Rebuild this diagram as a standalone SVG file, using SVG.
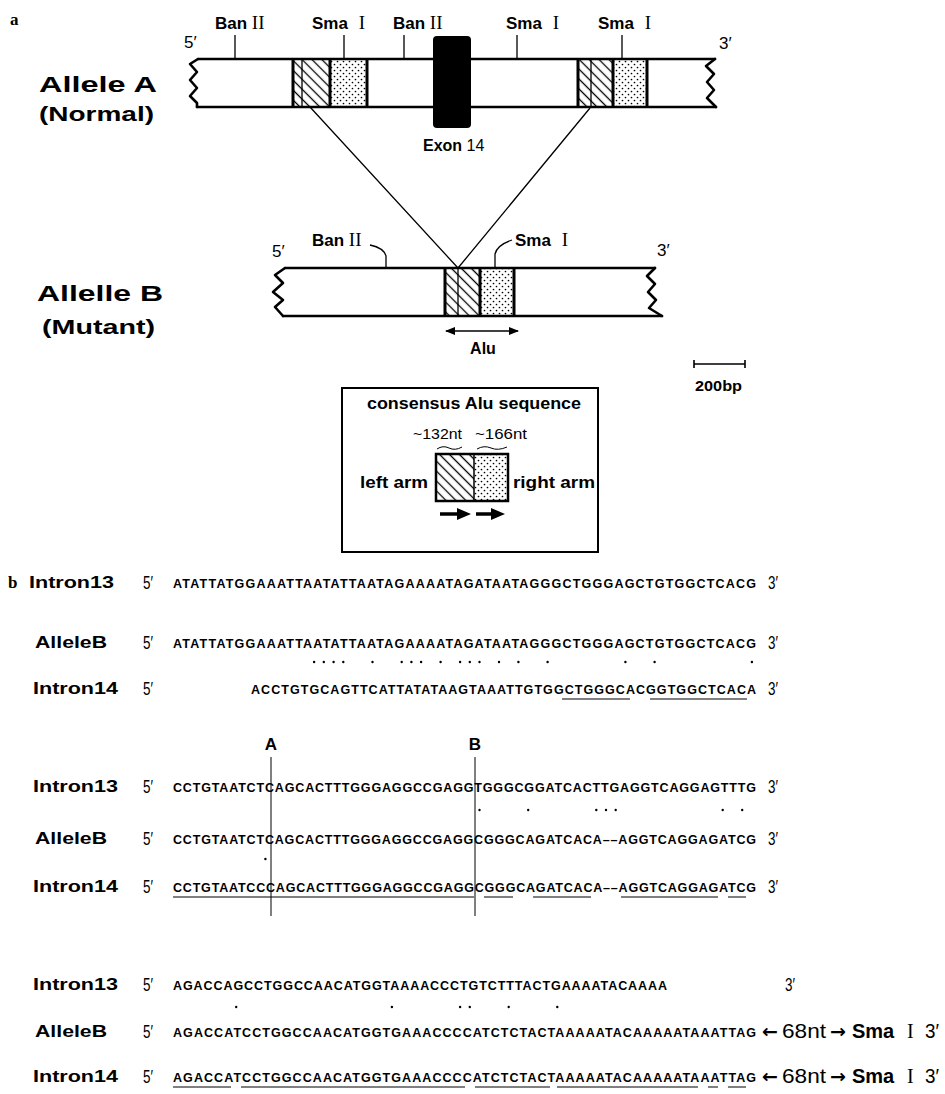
<svg xmlns="http://www.w3.org/2000/svg" width="945" height="1094" viewBox="0 0 945 1094">
<style>
.sans{font-family:'Liberation Sans',Arial,sans-serif;font-weight:bold}
.arr{font-family:'DejaVu Sans',sans-serif;font-weight:bold;font-size:19px}
.lbl{font-family:'Liberation Sans',Arial,sans-serif;font-weight:bold;font-size:17px}
.big{font-family:'Liberation Sans',Arial,sans-serif;font-weight:bold;font-size:22px}
.ser{font-family:'Liberation Serif','Times New Roman',serif;font-weight:normal}
.pr{font-family:'Liberation Sans Narrow','Liberation Sans',Arial,sans-serif;font-weight:normal;font-size:19px}
.seq{font-family:'Liberation Sans',Arial,sans-serif;font-weight:bold;font-size:12.5px}
.rl{font-family:'Liberation Sans',Arial,sans-serif;font-weight:bold;font-size:17px}
.bar{fill:none;stroke:#000;stroke-width:2.6;stroke-linejoin:round;stroke-linecap:round}
.thin{fill:none;stroke:#000;stroke-width:1.3}
.tk{fill:none;stroke:#000;stroke-width:3}
.ul{fill:none;stroke:#000;stroke-width:1.2}
.dot{fill:#000}
</style>
<defs>
<pattern id="h" width="7" height="7" patternUnits="userSpaceOnUse" patternTransform="rotate(-45)"><line x1="3.5" y1="-1" x2="3.5" y2="8" stroke="#000" stroke-width="1.3"/></pattern>
<pattern id="d" width="6" height="6" patternUnits="userSpaceOnUse"><circle cx="1.5" cy="1.5" r="0.85" fill="#000"/><circle cx="4.5" cy="4.5" r="0.85" fill="#000"/></pattern>
<marker id="ah" viewBox="0 0 10 10" refX="9" refY="5" markerWidth="7" markerHeight="7" orient="auto-start-reverse"><path d="M0,1 L10,5 L0,9 Z" fill="#000"/></marker>
</defs>
<rect width="945" height="1094" fill="#fff"/>

<text x="10" y="25" class="ser" style="font-size:17px;font-weight:bold">a</text>

<g id="alleleA">
  <text x="39" y="92" class="big" textLength="118" lengthAdjust="spacingAndGlyphs">Allele A</text>
  <text x="39" y="121" class="lbl" style="font-size:20px" textLength="115" lengthAdjust="spacingAndGlyphs">(Normal)</text>
  <rect x="293" y="59" width="37" height="48" fill="url(#h)"/>
  <rect x="330" y="59" width="37" height="48" fill="url(#d)"/>
  <rect x="578" y="59" width="35" height="48" fill="url(#h)"/>
  <rect x="613" y="59" width="34" height="48" fill="url(#d)"/>
  <path class="bar" d="M198,59 H715 M197,107 H716"/>
  <path class="bar" d="M198,59 L190,64 L197,72 L190,80 L197,88 L190,96 L197,103 L197,107"/>
  <path class="bar" d="M715,59 L706,66 L714,74 L707,82 L714,90 L707,98 L716,107"/>
  <path class="tk" d="M293,59 V107 M330,59 V107 M367,59 V107 M578,59 V107 M613,59 V107 M647,59 V107"/>
  <path class="thin" d="M302,59 V107 M591,59 V107"/>
  <rect x="433" y="36" width="38" height="92" rx="4" fill="#000"/>
  <path class="thin" d="M235,35 V59 M344,35 V59 M404,35 V59 M517,35 V59 M622,35 V59"/>
  <text x="215" y="29" class="lbl">Ban <tspan class="ser" style="font-size:19px">II</tspan></text>
  <text x="312" y="29" class="lbl">Sma <tspan class="ser" dx="6" style="font-size:19px">I</tspan></text>
  <text x="393" y="29" class="lbl">Ban <tspan class="ser" style="font-size:19px">II</tspan></text>
  <text x="506" y="29" class="lbl">Sma <tspan class="ser" dx="6" style="font-size:19px">I</tspan></text>
  <text x="598" y="29" class="lbl">Sma <tspan class="ser" dx="6" style="font-size:19px">I</tspan></text>
  <text x="184" y="48" class="pr" style="font-size:17px">5′</text>
  <text x="719" y="49" class="pr" style="font-size:17px">3′</text>
  <text x="423" y="151" class="lbl" style="font-size:16px">Exon <tspan style="font-weight:normal">14</tspan></text>
</g>

<g id="connectors">
  <path class="thin" d="M310,107 L458,268 M590,108 L458,268"/>
</g>

<g id="alleleB">
  <text x="37" y="301" class="big" textLength="126" lengthAdjust="spacingAndGlyphs">Allelle B</text>
  <text x="42" y="334" class="lbl" style="font-size:20px" textLength="113" lengthAdjust="spacingAndGlyphs">(Mutant)</text>
  <rect x="445" y="268" width="35" height="48" fill="url(#h)"/>
  <rect x="480" y="268" width="34" height="48" fill="url(#d)"/>
  <path class="bar" d="M285,268 H655 M283,316 H662"/>
  <path class="bar" d="M285,268 L275,275 L283,283 L273,292 L283,300 L275,307 L283,316"/>
  <path class="bar" d="M655,268 L647,276 L655,284 L648,292 L656,300 L649,308 L662,316"/>
  <path class="tk" d="M445,268 V316 M480,268 V316 M514,268 V316"/>
  <path class="thin" d="M458,268 V316"/>
  <path class="thin" d="M370,245 Q384,248 386,256 V268 M512,240 Q497,245 495,254 V268"/>
  <text x="312" y="246" class="lbl">Ban <tspan class="ser" style="font-size:19px">II</tspan></text>
  <text x="515" y="246" class="lbl">Sma <tspan class="ser" dx="6" style="font-size:19px">I</tspan></text>
  <text x="272" y="257" class="pr" style="font-size:17px">5′</text>
  <text x="657" y="256" class="pr" style="font-size:17px">3′</text>
  <line x1="446" y1="331" x2="518" y2="331" stroke="#000" stroke-width="1.5" marker-start="url(#ah)" marker-end="url(#ah)"/>
  <text x="483" y="354" class="lbl" text-anchor="middle" style="font-size:16px">Alu</text>
</g>

<g id="scale">
  <path class="thin" d="M694,364 H745 M694,360 V368 M745,360 V368" style="stroke-width:1.6"/>
  <text x="695" y="391" class="lbl" style="font-size:15px" textLength="47" lengthAdjust="spacingAndGlyphs">200bp</text>
</g>

<g id="consensus">
  <rect x="342" y="388" width="256" height="164" fill="none" stroke="#000" stroke-width="2"/>
  <text x="367" y="409" class="lbl" textLength="214" lengthAdjust="spacingAndGlyphs">consensus Alu sequence</text>
  <text x="413" y="439" class="lbl" style="font-size:15px;font-weight:normal" textLength="49" lengthAdjust="spacingAndGlyphs">~132nt</text>
  <text x="475" y="439" class="lbl" style="font-size:15px;font-weight:normal" textLength="52" lengthAdjust="spacingAndGlyphs">~166nt</text>
  <path class="thin" d="M437,449 Q443,445 449,448 Q455,451 462,447 M477,449 Q484,445 491,448 Q498,451 507,447" style="stroke-width:1"/>
  <rect x="436" y="454" width="38" height="47" fill="url(#h)"/>
  <rect x="474" y="454" width="34" height="47" fill="url(#d)"/>
  <rect x="436" y="454" width="72" height="47" fill="none" stroke="#000" stroke-width="2.5"/>
  <line x1="474" y1="454" x2="474" y2="501" stroke="#000" stroke-width="1.5"/>
  <text x="360" y="488" class="lbl" textLength="68" lengthAdjust="spacingAndGlyphs">left arm</text>
  <text x="513" y="488" class="lbl" textLength="82" lengthAdjust="spacingAndGlyphs">right arm</text>
  <path d="M440,514 H460" stroke="#000" stroke-width="3.5"/>
  <path d="M457,508 L471,514 L457,520 Z" fill="#000"/>
  <path d="M476,514 H494" stroke="#000" stroke-width="3.5"/>
  <path d="M491,508 L505,514 L491,520 Z" fill="#000"/>
</g>

<text x="8" y="588" class="ser" style="font-size:17px;font-weight:bold">b</text>

<g id="block1">
  <text x="29" y="588" class="rl" textLength="85" lengthAdjust="spacingAndGlyphs">Intron13</text>
  <text x="143" y="589" class="pr" textLength="10" lengthAdjust="spacingAndGlyphs">5′</text>
  <text x="173" y="588" class="seq" textLength="583" lengthAdjust="spacing">ATATTATGGAAATTAATATTAATAGAAAATAGATAATAGGGCTGGGAGCTGTGGCTCACG</text>
  <text x="768" y="589" class="pr" textLength="10" lengthAdjust="spacingAndGlyphs">3′</text>

  <text x="35" y="648" class="rl" textLength="72" lengthAdjust="spacingAndGlyphs">AlleleB</text>
  <text x="143" y="649" class="pr" textLength="10" lengthAdjust="spacingAndGlyphs">5′</text>
  <text x="173" y="648" class="seq" textLength="583" lengthAdjust="spacing">ATATTATGGAAATTAATATTAATAGAAAATAGATAATAGGGCTGGGAGCTGTGGCTCACG</text>
  <text x="768" y="649" class="pr" textLength="10" lengthAdjust="spacingAndGlyphs">3′</text>

  <g class="dot">
    <circle cx="314.1" cy="662" r="1.2"/><circle cx="323.8" cy="662" r="1.2"/><circle cx="333.6" cy="662" r="1.2"/><circle cx="343.3" cy="662" r="1.2"/>
    <circle cx="372.5" cy="662" r="1.2"/><circle cx="401.7" cy="662" r="1.2"/><circle cx="411.4" cy="662" r="1.2"/><circle cx="421.1" cy="662" r="1.2"/>
    <circle cx="440.6" cy="662" r="1.2"/><circle cx="460.1" cy="662" r="1.2"/><circle cx="469.8" cy="662" r="1.2"/><circle cx="479.5" cy="662" r="1.2"/>
    <circle cx="499" cy="662" r="1.2"/><circle cx="518.4" cy="662" r="1.2"/><circle cx="547.6" cy="662" r="1.2"/><circle cx="625.4" cy="662" r="1.2"/>
    <circle cx="654.6" cy="662" r="1.2"/><circle cx="751.9" cy="662" r="1.2"/>
  </g>

  <text x="33" y="694" class="rl" textLength="85" lengthAdjust="spacingAndGlyphs">Intron14</text>
  <text x="143" y="695" class="pr" textLength="10" lengthAdjust="spacingAndGlyphs">5′</text>
  <text x="251" y="694" class="seq" textLength="505" lengthAdjust="spacing">ACCTGTGCAGTTCATTATATAAGTAAATTGTGGCTGGGCACGGTGGCTCACA</text>
  <text x="768" y="695" class="pr" textLength="10" lengthAdjust="spacingAndGlyphs">3′</text>
  <path class="ul" d="M562,699 H630 M650,699 H747"/>
</g>

<g id="block2">
  <text x="271" y="750" class="lbl" text-anchor="middle">A</text>
  <text x="475" y="750" class="lbl" text-anchor="middle">B</text>
  <path class="thin" d="M271,757 V916 M475,757 V916" style="stroke-width:1"/>

  <text x="33" y="792" class="rl" textLength="85" lengthAdjust="spacingAndGlyphs">Intron13</text>
  <text x="143" y="793" class="pr" textLength="10" lengthAdjust="spacingAndGlyphs">5′</text>
  <text x="173" y="792" class="seq" textLength="583" lengthAdjust="spacing">CCTGTAATCTCAGCACTTTGGGAGGCCGAGGTGGGCGGATCACTTGAGGTCAGGAGTTTG</text>
  <text x="768" y="793" class="pr" textLength="10" lengthAdjust="spacingAndGlyphs">3′</text>
  <g class="dot">
    <circle cx="479.5" cy="810" r="1.2"/><circle cx="528.2" cy="810" r="1.2"/><circle cx="596.3" cy="810" r="1.2"/><circle cx="606" cy="810" r="1.2"/>
    <circle cx="615.7" cy="810" r="1.2"/><circle cx="722.7" cy="810" r="1.2"/><circle cx="742.2" cy="810" r="1.2"/>
  </g>
  <text x="35" y="844" class="rl" textLength="72" lengthAdjust="spacingAndGlyphs">AlleleB</text>
  <text x="143" y="845" class="pr" textLength="10" lengthAdjust="spacingAndGlyphs">5′</text>
  <text x="173" y="844" class="seq" textLength="583" lengthAdjust="spacing">CCTGTAATCTCAGCACTTTGGGAGGCCGAGGCGGGCAGATCACA––AGGTCAGGAGATCG</text>
  <text x="768" y="845" class="pr" textLength="10" lengthAdjust="spacingAndGlyphs">3′</text>
  <circle class="dot" cx="265.4" cy="859" r="1.2"/>
  <text x="33" y="892" class="rl" textLength="85" lengthAdjust="spacingAndGlyphs">Intron14</text>
  <text x="143" y="893" class="pr" textLength="10" lengthAdjust="spacingAndGlyphs">5′</text>
  <text x="173" y="892" class="seq" textLength="583" lengthAdjust="spacing">CCTGTAATCCCAGCACTTTGGGAGGCCGAGGCGGGCAGATCACA––AGGTCAGGAGATCG</text>
  <text x="768" y="893" class="pr" textLength="10" lengthAdjust="spacingAndGlyphs">3′</text>
  <path class="ul" d="M173,897 H474 M484,897 H513 M533,897 H591 M621,897 H718 M728,897 H746"/>
</g>

<g id="block3">
  <text x="33" y="990" class="rl" textLength="85" lengthAdjust="spacingAndGlyphs">Intron13</text>
  <text x="143" y="991" class="pr" textLength="10" lengthAdjust="spacingAndGlyphs">5′</text>
  <text x="173" y="990" class="seq" textLength="494" lengthAdjust="spacing">AGACCAGCCTGGCCAACATGGTAAAACCCTGTCTTTACTGAAAATACAAAA</text>
  <text x="785" y="991" class="pr" textLength="10" lengthAdjust="spacingAndGlyphs">3′</text>
  <g class="dot">
    <circle cx="236.2" cy="1007" r="1.2"/><circle cx="391.9" cy="1007" r="1.2"/><circle cx="460.1" cy="1007" r="1.2"/><circle cx="469.8" cy="1007" r="1.2"/>
    <circle cx="508.7" cy="1007" r="1.2"/><circle cx="557.3" cy="1007" r="1.2"/>
  </g>
  <text x="35" y="1037" class="rl" textLength="72" lengthAdjust="spacingAndGlyphs">AlleleB</text>
  <text x="143" y="1038" class="pr" textLength="10" lengthAdjust="spacingAndGlyphs">5′</text>
  <text x="173" y="1037" class="seq" textLength="583" lengthAdjust="spacing">AGACCATCCTGGCCAACATGGTGAAACCCCATCTCTACTAAAAATACAAAAATAAATTAG</text>
  <text y="1038" class="pr" style="font-size:20px"><tspan x="762" class="arr">←</tspan><tspan x="782" textLength="44" lengthAdjust="spacingAndGlyphs">68nt</tspan><tspan x="830" class="arr">→</tspan><tspan x="852" class="sans">Sma</tspan><tspan x="907" class="ser">I</tspan><tspan x="925" textLength="14" lengthAdjust="spacingAndGlyphs">3′</tspan></text>
  <text x="33" y="1082" class="rl" textLength="85" lengthAdjust="spacingAndGlyphs">Intron14</text>
  <text x="143" y="1083" class="pr" textLength="10" lengthAdjust="spacingAndGlyphs">5′</text>
  <text x="173" y="1082" class="seq" textLength="583" lengthAdjust="spacing">AGACCATCCTGGCCAACATGGTGAAACCCCATCTCTACTAAAAATACAAAAATAAATTAG</text>
  <text y="1083" class="pr" style="font-size:20px"><tspan x="762" class="arr">←</tspan><tspan x="782" textLength="44" lengthAdjust="spacingAndGlyphs">68nt</tspan><tspan x="830" class="arr">→</tspan><tspan x="852" class="sans">Sma</tspan><tspan x="907" class="ser">I</tspan><tspan x="925" textLength="14" lengthAdjust="spacingAndGlyphs">3′</tspan></text>
  <path class="ul" d="M173,1087 H231 M241,1087 H465 M475,1087 H550 M557,1087 H698 M708,1087 H718 M728,1087 H746"/>
</g>
</svg>
